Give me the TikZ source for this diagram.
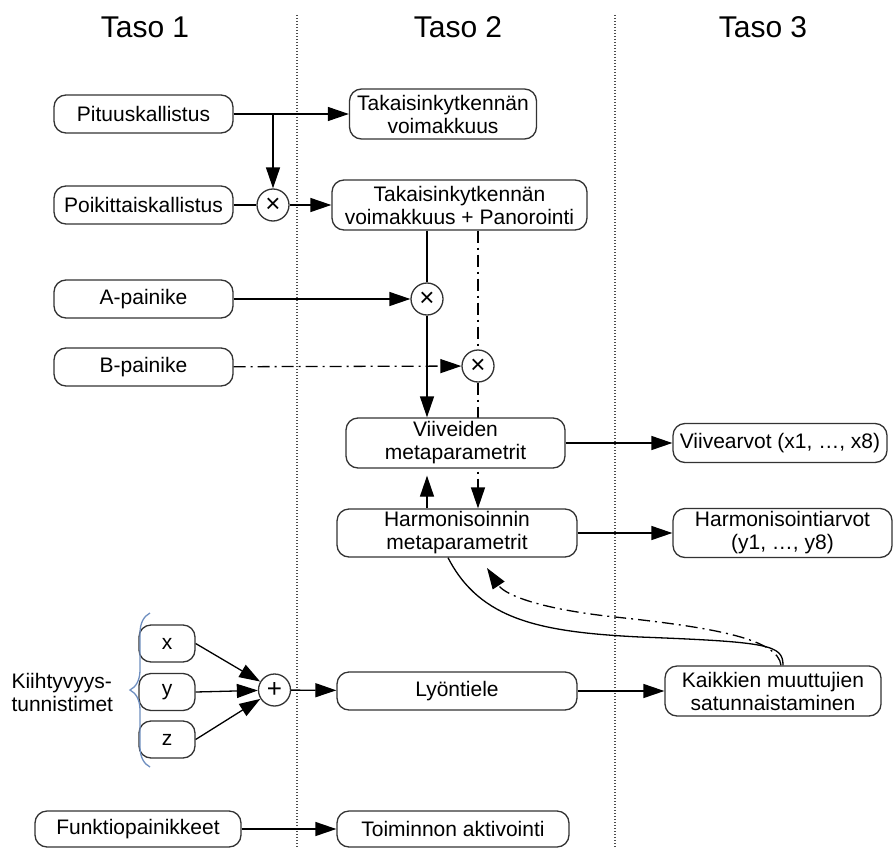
\documentclass[tikz,border=0pt]{standalone}
\usepackage{fontspec}
\setmainfont{Liberation Sans}
\usetikzlibrary{arrows.meta,calc,decorations.pathreplacing,backgrounds}
\definecolor{bracecol}{HTML}{6F8FC0}
\begin{document}
\begin{tikzpicture}[x=1pt,y=-1pt,
 box/.style={draw=black!80,line width=1.3pt,rounded corners=12pt,fill=white,align=center,inner sep=0pt,font=\fontsize{21}{23}\selectfont},
 op/.style={draw=black!80,circle,line width=1.3pt,minimum size=32pt,inner sep=0pt,fill=white,font=\fontsize{26}{26}\selectfont},
 arr/.style={line width=1.3pt,-{Triangle[length=21pt,width=14pt]}},
 ln/.style={line width=1.3pt},
 dd/.style={dash pattern=on 12pt off 5pt on 2pt off 5pt},
 sep/.style={line width=1.2pt,dash pattern=on 1.3pt off 1.7pt,black!70},
 hdr/.style={font=\fontsize{30}{36}\selectfont},
 lab/.style={font=\fontsize{21}{23}\selectfont,align=left}]
\begin{scope}[on background layer]
\fill[white] (0,0) rectangle (893,848);
\end{scope}
\useasboundingbox (0,0) rectangle (893,848);
% column separators
\draw[sep] (297,15) -- (297,848);
\draw[sep] (615,15) -- (615,848);
% headers
\node[hdr] (h1) at (145,27) {Taso 1};
\node[hdr] (h2) at (458,27) {Taso 2};
\node[hdr] (h3) at (763,27) {Taso 3};
% level 1
\node[box,minimum width=179pt,minimum height=38pt] (pit) at (143.5,114) {Pituuskallistus};
\node[box,minimum width=179pt,minimum height=38pt] (poik) at (143.5,205) {Poikittaiskallistus};
\node[box,minimum width=179pt,minimum height=38pt] (apain) at (143.5,299) {A-painike};
\node[box,minimum width=179pt,minimum height=38pt] (bpain) at (143.5,367) {B-painike};
\node[box,minimum width=56pt,minimum height=37pt] (xb) at (167,643.5) {x};
\node[box,minimum width=56pt,minimum height=37pt] (yb) at (167,692) {y};
\node[box,minimum width=56pt,minimum height=37pt] (zb) at (167,739.5) {z};
\node[lab,anchor=west] (kt) at (8,692) {Kiihtyvyys-\\tunnistimet};
\node[box,minimum width=206pt,minimum height=36pt] (funk) at (138,829) {Funktiopainikkeet};
% operators
\node[op] (c1) at (273,205) {×};
\node[op] (c2) at (427,299) {×};
\node[op] (c3) at (478,366) {×};
\node[op] (plus) at (274.5,690) {+};
% level 2
\node[box,minimum width=187pt,minimum height=50pt] (tv) at (443,114) {Takaisinkytkennän\\voimakkuus};
\node[box,minimum width=255pt,minimum height=50pt] (tvp) at (459.5,205) {Takaisinkytkennän\\voimakkuus + Panorointi};
\node[box,minimum width=219pt,minimum height=50pt] (viiv) at (455.5,443) {Viiveiden\\metaparametrit};
\node[box,minimum width=240pt,minimum height=48pt] (harm) at (457,533) {Harmonisoinnin\\metaparametrit};
\node[box,minimum width=240pt,minimum height=38pt] (lyo) at (457,691) {Lyöntiele};
\node[box,minimum width=232pt,minimum height=36pt] (toim) at (453,829) {Toiminnon aktivointi};
% level 3
\node[box,minimum width=214pt,minimum height=39pt] (viiva) at (780,443) {Viivearvot (x1, …, x8)};
\node[box,minimum width=219pt,minimum height=49pt] (harmarvo) at (782.5,533) {Harmonisointiarvot\\(y1, …, y8)};
\node[box,minimum width=216pt,minimum height=50pt] (kaik) at (773,691) {Kaikkien muuttujien\\satunnaistaminen};
% brace
\draw[bracecol,line width=1.3pt,decorate,decoration={brace,amplitude=20pt}] (150,767) -- (150,613);
% connectors
\coordinate (j1) at (c1 |- pit.east);
\draw[arr] (pit) -- (tv);
\draw[arr] (j1) -- (c1);
\draw[ln] (poik) -- (c1);
\draw[arr] (c1) -- (tvp);
\draw[ln] (c2 |- tvp.south) -- (c2);
\draw[arr] (apain) -- (c2);
\draw[arr] (c2) -- (c2 |- viiv.north);
\draw[ln,dd] (c3 |- tvp.south) -- (c3);
\draw[arr,dd] (bpain) -- (c3);
\begin{scope}[on background layer]
\draw[arr,dd] (c3) -- (c3 |- harm.north);
\end{scope}
\draw[arr,shorten >=7pt] (c2 |- harm.north) -- (c2 |- viiv.south);
\draw[arr] (viiv) -- (viiva);
\draw[arr] (harm) -- (harmarvo);
\draw[arr] (xb.east) -- (plus);
\draw[arr] (yb.east) -- (plus);
\draw[arr] (zb.east) -- (plus);
\draw[arr] (plus) -- (lyo);
\draw[arr] (lyo) -- (kaik);
\draw[arr] (funk) -- (toim);
\coordinate (hd) at (487,568);
\draw[ln] ($(harm.south)+(-9,0)$) .. controls (480,620) and (540,632) .. (640,637) .. controls (770,642) and (783,645) .. ($(kaik.north)+(10,0)$);
\draw[arr,dd] ($(kaik.north)+(8,0)$) .. controls (778,640) and (720,628) .. (615,617) .. controls (540,609) and (505,595) .. (hd);
\end{tikzpicture}
\end{document}
